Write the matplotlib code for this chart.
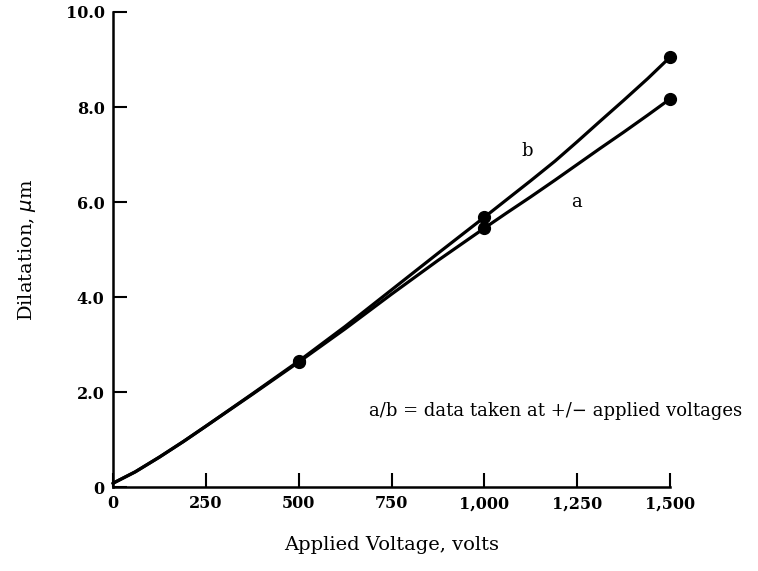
import matplotlib.pyplot as plt

# curve readings (volts -> dilatation, um)
volts = [0, 60, 125, 190, 250, 375, 500, 625, 750, 875, 1000,
         1060, 1125, 1190, 1250, 1310, 1375, 1440, 1500]
curve_a = [0.08, 0.32, 0.63, 0.96, 1.28, 1.95, 2.63, 3.33, 4.06, 4.77, 5.45,
           5.77, 6.11, 6.46, 6.79, 7.12, 7.47, 7.83, 8.17]
curve_b = [0.08, 0.32, 0.63, 0.96, 1.28, 1.96, 2.65, 3.38, 4.15, 4.92, 5.68,
           6.05, 6.45, 6.86, 7.27, 7.69, 8.14, 8.60, 9.05]

# measured points
pt_volts = [500, 1000, 1500]
pts_a = [2.63, 5.45, 8.17]
pts_b = [2.65, 5.68, 9.05]

xticks = [0, 250, 500, 750, 1000, 1250, 1500]
xticklabels = ["0", "250", "500", "750", "1,000", "1,250", "1,500"]
yticks = [0, 2, 4, 6, 8, 10]
yticklabels = ["0", "2.0", "4.0", "6.0", "8.0", "10.0"]

plt.rcParams['font.family'] = 'DejaVu Serif'

fig = plt.figure(figsize=(7.58, 5.71), dpi=100)
ax = fig.add_axes([0.149, 0.147, 0.735, 0.832])

for cv, pv in [(curve_a, pts_a), (curve_b, pts_b)]:
    ax.plot(volts, cv, color='black', lw=2.3, solid_capstyle='round',
            solid_joinstyle='round', clip_on=False)
    ax.plot(pt_volts, pv, 'o', color='black', ms=8.5, clip_on=False)

ax.set_xlim(0, 1500)
ax.set_ylim(0, 10)
ax.spines['top'].set_visible(False)
ax.spines['right'].set_visible(False)
ax.spines['left'].set_linewidth(1.8)
ax.spines['bottom'].set_linewidth(1.8)

ax.set_xticks(xticks)
ax.set_xticklabels(xticklabels, fontweight='bold')
ax.set_yticks(yticks)
ax.set_yticklabels(yticklabels, fontweight='bold')
ax.tick_params(direction='in', length=10, width=1.5, labelsize=11.5, pad=6)

ax.text(1115, 7.07, "b", fontsize=13, ha='center', va='center')
ax.text(1247, 6.0, "a", fontsize=13, ha='center', va='center')
ax.text(690, 1.6, "a/b = data taken at +/\u2212 applied voltages", fontsize=13,
        ha='left', va='center')

ax.set_xlabel("Applied Voltage, volts", fontsize=14, labelpad=17)
ax.set_ylabel("Dilatation, $\\mu$m", fontsize=14, labelpad=20)

fig.savefig("out.png", dpi=100)
